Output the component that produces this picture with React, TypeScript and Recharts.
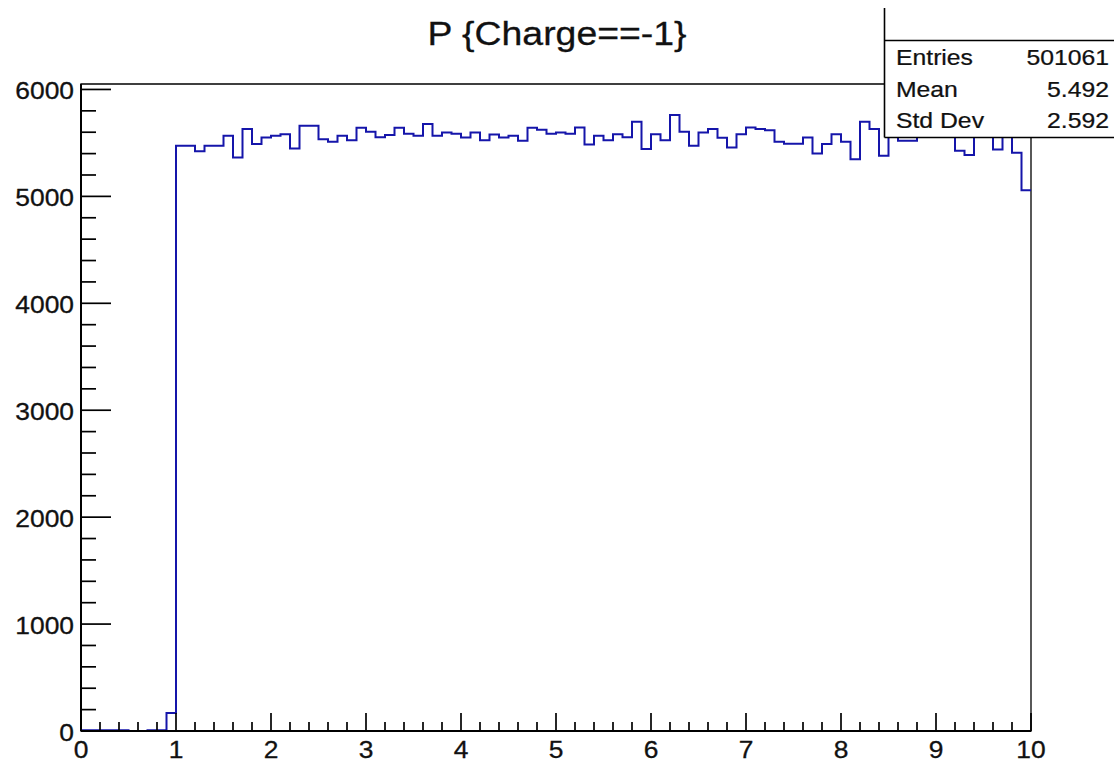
import React from "react";
import { LineChart, Line, XAxis, YAxis, ReferenceArea } from "recharts";

// Momentum spectrum of negatively charged tracks, 100 bins over [0, 10)
const BIN_WIDTH = 0.1;
const binCounts: number[] = [
  8, 8, 8, 8, 8, 0, 0, 8, 8, 168,
  5473, 5473, 5423, 5473, 5473, 5567, 5364, 5629, 5489, 5551,
  5567, 5582, 5448, 5660, 5660, 5535, 5510, 5567, 5526, 5641,
  5604, 5554, 5573, 5641, 5585, 5567, 5676, 5567, 5598, 5585,
  5551, 5598, 5526, 5579, 5551, 5567, 5520, 5641, 5623, 5585,
  5598, 5585, 5644, 5485, 5567, 5526, 5582, 5554, 5697, 5442,
  5582, 5526, 5760, 5604, 5473, 5598, 5629, 5548, 5457, 5582,
  5644, 5629, 5619, 5510, 5492, 5492, 5551, 5401, 5489, 5582,
  5510, 5348, 5697, 5629, 5380, 5640, 5520, 5520, 5590, 5650,
  5610, 5580, 5426, 5386, 5600, 5570, 5439, 5620, 5408, 5058,
];

const X_MIN = 0;
const X_MAX = 10;
const Y_MAX = 6051;

const xMajorTicks = [0, 1, 2, 3, 4, 5, 6, 7, 8, 9, 10];
const yMajorTicks = [0, 1000, 2000, 3000, 4000, 5000, 6000];
const X_MINOR_STEP = 0.2;
const Y_MINOR_STEP = 200;

const statsLabels = ["Entries", "Mean", "Std Dev"];
const statsValues = ["501061", "5.492", "2.592"];
const title = "P {Charge==-1}";

// Step outline: one point per lower bin edge plus the closing upper edge
const histData = [
  ...binCounts.map((count, i) => ({ edge: Math.round(i * BIN_WIDTH * 10) / 10, count })),
  { edge: X_MAX, count: binCounts[binCounts.length - 1] },
];

const xTicks: number[] = [];
for (let k = 0; k <= Math.round((X_MAX - X_MIN) / X_MINOR_STEP); k++) {
  xTicks.push(Math.round((X_MIN + k * X_MINOR_STEP) * 10) / 10);
}
const yTicks: number[] = [];
for (let v = 0; v <= 6000; v += Y_MINOR_STEP) yTicks.push(v);

const FONT = "'Liberation Sans', Arial, Helvetica, sans-serif";
const STRETCH = 1.1;
const LABEL_SIZE = 24;

const isMajor = (v: number, majors: number[]) =>
  majors.some((m) => Math.abs(m - v) < 1e-6);

const YTick = (props: any) => {
  const { x, y, payload } = props;
  const v = payload.value as number;
  const major = isMajor(v, yMajorTicks);
  return (
    <g>
      <line x1={x} x2={x + (major ? 30 : 15)} y1={y} y2={y} stroke="#000" strokeWidth={1.7} />
      {major && (
        <text
          transform={`translate(${x - 7},${y + 1}) scale(${STRETCH},1)`}
          textAnchor="end"
          dominantBaseline="central"
          fontSize={LABEL_SIZE}
          fontFamily={FONT}
          fill="#111"
          stroke="#111"
          strokeWidth={0.3}
        >
          {v}
        </text>
      )}
    </g>
  );
};

const XTick = (props: any) => {
  const { x, y, payload } = props;
  const v = payload.value as number;
  const major = isMajor(v, xMajorTicks);
  return (
    <g>
      <line x1={x} x2={x} y1={y} y2={y - (major ? 18 : 9)} stroke="#000" strokeWidth={1.7} />
      {major && (
        <text
          transform={`translate(${x},${y + 27}) scale(${STRETCH},1)`}
          textAnchor="middle"
          fontSize={LABEL_SIZE}
          fontFamily={FONT}
          fill="#111"
          stroke="#111"
          strokeWidth={0.3}
        >
          {Math.round(v)}
        </text>
      )}
    </g>
  );
};

export default function App() {
  return (
    <div style={{ position: "absolute", left: 0, top: 0, width: 1114, height: 762, background: "#fff" }}>
      <LineChart
        width={1114}
        height={762}
        data={histData}
        margin={{ top: 84, right: 83, bottom: 0, left: 0 }}
      >
        <ReferenceArea
          x1={X_MIN}
          x2={X_MAX}
          y1={0}
          y2={Y_MAX}
          fill="none"
          stroke="#000"
          strokeWidth={1.3}
          fillOpacity={0}
        />
        <XAxis
          type="number"
          dataKey="edge"
          domain={[X_MIN, X_MAX]}
          ticks={xTicks}
          interval={0}
          height={31}
          tickSize={0}
          tickMargin={0}
          tick={XTick}
          tickLine={false}
          axisLine={{ stroke: "#000", strokeWidth: 2 }}
          allowDataOverflow
        />
        <YAxis
          type="number"
          domain={[0, Y_MAX]}
          ticks={yTicks}
          interval={0}
          width={81}
          tickSize={0}
          tickMargin={0}
          tick={YTick}
          tickLine={false}
          axisLine={{ stroke: "#000", strokeWidth: 2 }}
          allowDataOverflow
        />
        <Line
          type="stepAfter"
          dataKey="count"
          stroke="#1515aa"
          strokeWidth={2}
          dot={false}
          activeDot={false}
          isAnimationActive={false}
        />
      </LineChart>
      <svg
        width={1114}
        height={762}
        style={{ position: "absolute", left: 0, top: 0, pointerEvents: "none" }}
      >
        <text
          transform={`translate(557,45) scale(${STRETCH},1)`}
          textAnchor="middle"
          fontSize={34}
          fontFamily={FONT}
          fill="#111"
          stroke="#111"
          strokeWidth={0.3}
        >
          {title}
        </text>
        {/* statistics box */}
        <rect x={884} y={8} width={240} height={129} fill="#fff" />
        <line x1={884.5} y1={8} x2={884.5} y2={137.5} stroke="#000" strokeWidth={1.6} />
        <line x1={884.5} y1={40.5} x2={1114} y2={40.5} stroke="#000" strokeWidth={1.6} />
        <line x1={884.5} y1={137.5} x2={1114} y2={137.5} stroke="#000" strokeWidth={1.6} />
        {statsLabels.map((label, i) => (
          <g key={label}>
            <text
              transform={`translate(896,${65 + i * 31.5}) scale(${STRETCH},1)`}
              fontSize={22.5}
              fontFamily={FONT}
              fill="#111"
              stroke="#111"
              strokeWidth={0.25}
            >
              {label}
            </text>
            <text
              transform={`translate(1109,${65 + i * 31.5}) scale(${STRETCH},1)`}
              textAnchor="end"
              fontSize={22.5}
              fontFamily={FONT}
              fill="#111"
              stroke="#111"
              strokeWidth={0.25}
            >
              {statsValues[i]}
            </text>
          </g>
        ))}
      </svg>
    </div>
  );
}
